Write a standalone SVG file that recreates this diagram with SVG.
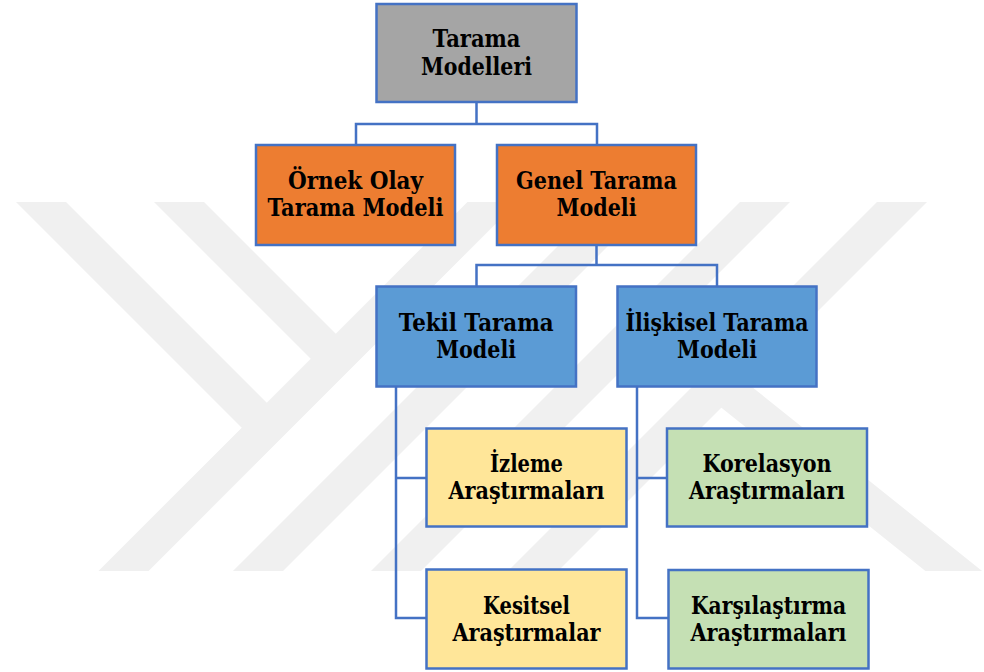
<svg xmlns="http://www.w3.org/2000/svg" width="984" height="672" viewBox="0 0 984 672">
<style>
.wm{fill:none;stroke:#f0f0f0;stroke-width:35.4;stroke-linecap:butt}
.box{stroke:#4472c4;stroke-width:2.5}
.gray{fill:#a5a5a5}
.orange{fill:#ed7d31}
.blue{fill:#5b9bd5}
.yellow{fill:#ffe699}
.green{fill:#c5e0b4}
.conn{fill:none;stroke:#4472c4;stroke-width:2.5}
.lbl{font-family:'DejaVu Serif','Liberation Serif','Noto Serif',serif;font-weight:bold;font-size:24px;fill:#000;text-anchor:middle}
</style>
<defs>
<clipPath id="wmclip"><rect x="0" y="202" width="984" height="369"/></clipPath>
</defs>
<rect width="984" height="672" fill="#ffffff"/>
<g id="watermark" clip-path="url(#wmclip)">
<line class="wm" x1="19" y1="180" x2="266.75" y2="427.75"/>
<line class="wm" x1="157" y1="180" x2="335.75" y2="358.75"/>
<line class="wm" x1="94.5" y1="600" x2="514.5" y2="180"/>
<line class="wm" x1="229" y1="600" x2="649" y2="180"/>
<line class="wm" x1="367" y1="600" x2="787" y2="180"/>
<line class="wm" x1="504" y1="600" x2="924" y2="180"/>
<line class="wm" x1="720" y1="384" x2="990" y2="600"/>
</g>
<g id="connectors">
<path class="conn" d="M476.5 102 V124 M356 145 V124 H597 V145"/>
<path class="conn" d="M596.5 245 V265 M476.5 286.5 V265 H717 V286.5"/>
<path class="conn" d="M396 386.5 V618 H426.5 M396 478 H426.5"/>
<path class="conn" d="M637 386.5 V618 H668.5 M637 478 H667"/>
</g>
<g id="tarama-modelleri">
<rect class="box gray" x="376.5" y="4" width="200" height="98"/>
<text class="lbl" x="476.5" y="46.5" textLength="88" lengthAdjust="spacingAndGlyphs">Tarama</text>
<text class="lbl" x="476.5" y="75" textLength="111" lengthAdjust="spacingAndGlyphs">Modelleri</text>
</g>
<g id="ornek-olay">
<rect class="box orange" x="256" y="145" width="199" height="100"/>
<text class="lbl" x="355.5" y="188.5" textLength="135" lengthAdjust="spacingAndGlyphs">Örnek Olay</text>
<text class="lbl" x="355.5" y="216" textLength="176" lengthAdjust="spacingAndGlyphs">Tarama Modeli</text>
</g>
<g id="genel-tarama">
<rect class="box orange" x="497" y="145" width="199" height="100"/>
<text class="lbl" x="596.5" y="188.5" textLength="161" lengthAdjust="spacingAndGlyphs">Genel Tarama</text>
<text class="lbl" x="596.5" y="216" textLength="80" lengthAdjust="spacingAndGlyphs">Modeli</text>
</g>
<g id="tekil-tarama">
<rect class="box blue" x="376.5" y="286.5" width="199.5" height="100"/>
<text class="lbl" x="476.2" y="331" textLength="155" lengthAdjust="spacingAndGlyphs">Tekil Tarama</text>
<text class="lbl" x="476.2" y="357.5" textLength="80" lengthAdjust="spacingAndGlyphs">Modeli</text>
</g>
<g id="iliskisel-tarama">
<rect class="box blue" x="617.5" y="286.5" width="199" height="100"/>
<text class="lbl" x="717" y="331" textLength="183" lengthAdjust="spacingAndGlyphs">İlişkisel Tarama</text>
<text class="lbl" x="717" y="357.5" textLength="80" lengthAdjust="spacingAndGlyphs">Modeli</text>
</g>
<g id="izleme">
<rect class="box yellow" x="426.5" y="428.5" width="200" height="98"/>
<text class="lbl" x="526.5" y="471.5" textLength="73" lengthAdjust="spacingAndGlyphs">İzleme</text>
<text class="lbl" x="526.5" y="498.5" textLength="156" lengthAdjust="spacingAndGlyphs">Araştırmaları</text>
</g>
<g id="kesitsel">
<rect class="box yellow" x="426.5" y="569.5" width="200" height="99"/>
<text class="lbl" x="526.5" y="613.5" textLength="87" lengthAdjust="spacingAndGlyphs">Kesitsel</text>
<text class="lbl" x="526.5" y="640.5" textLength="148" lengthAdjust="spacingAndGlyphs">Araştırmalar</text>
</g>
<g id="korelasyon">
<rect class="box green" x="667" y="428.5" width="200" height="98"/>
<text class="lbl" x="767" y="471.5" textLength="129" lengthAdjust="spacingAndGlyphs">Korelasyon</text>
<text class="lbl" x="767" y="498.5" textLength="156" lengthAdjust="spacingAndGlyphs">Araştırmaları</text>
</g>
<g id="karsilastirma">
<rect class="box green" x="668.5" y="570" width="200" height="98.5"/>
<text class="lbl" x="768.5" y="613.5" textLength="155" lengthAdjust="spacingAndGlyphs">Karşılaştırma</text>
<text class="lbl" x="768.5" y="640.5" textLength="156" lengthAdjust="spacingAndGlyphs">Araştırmaları</text>
</g>
</svg>
